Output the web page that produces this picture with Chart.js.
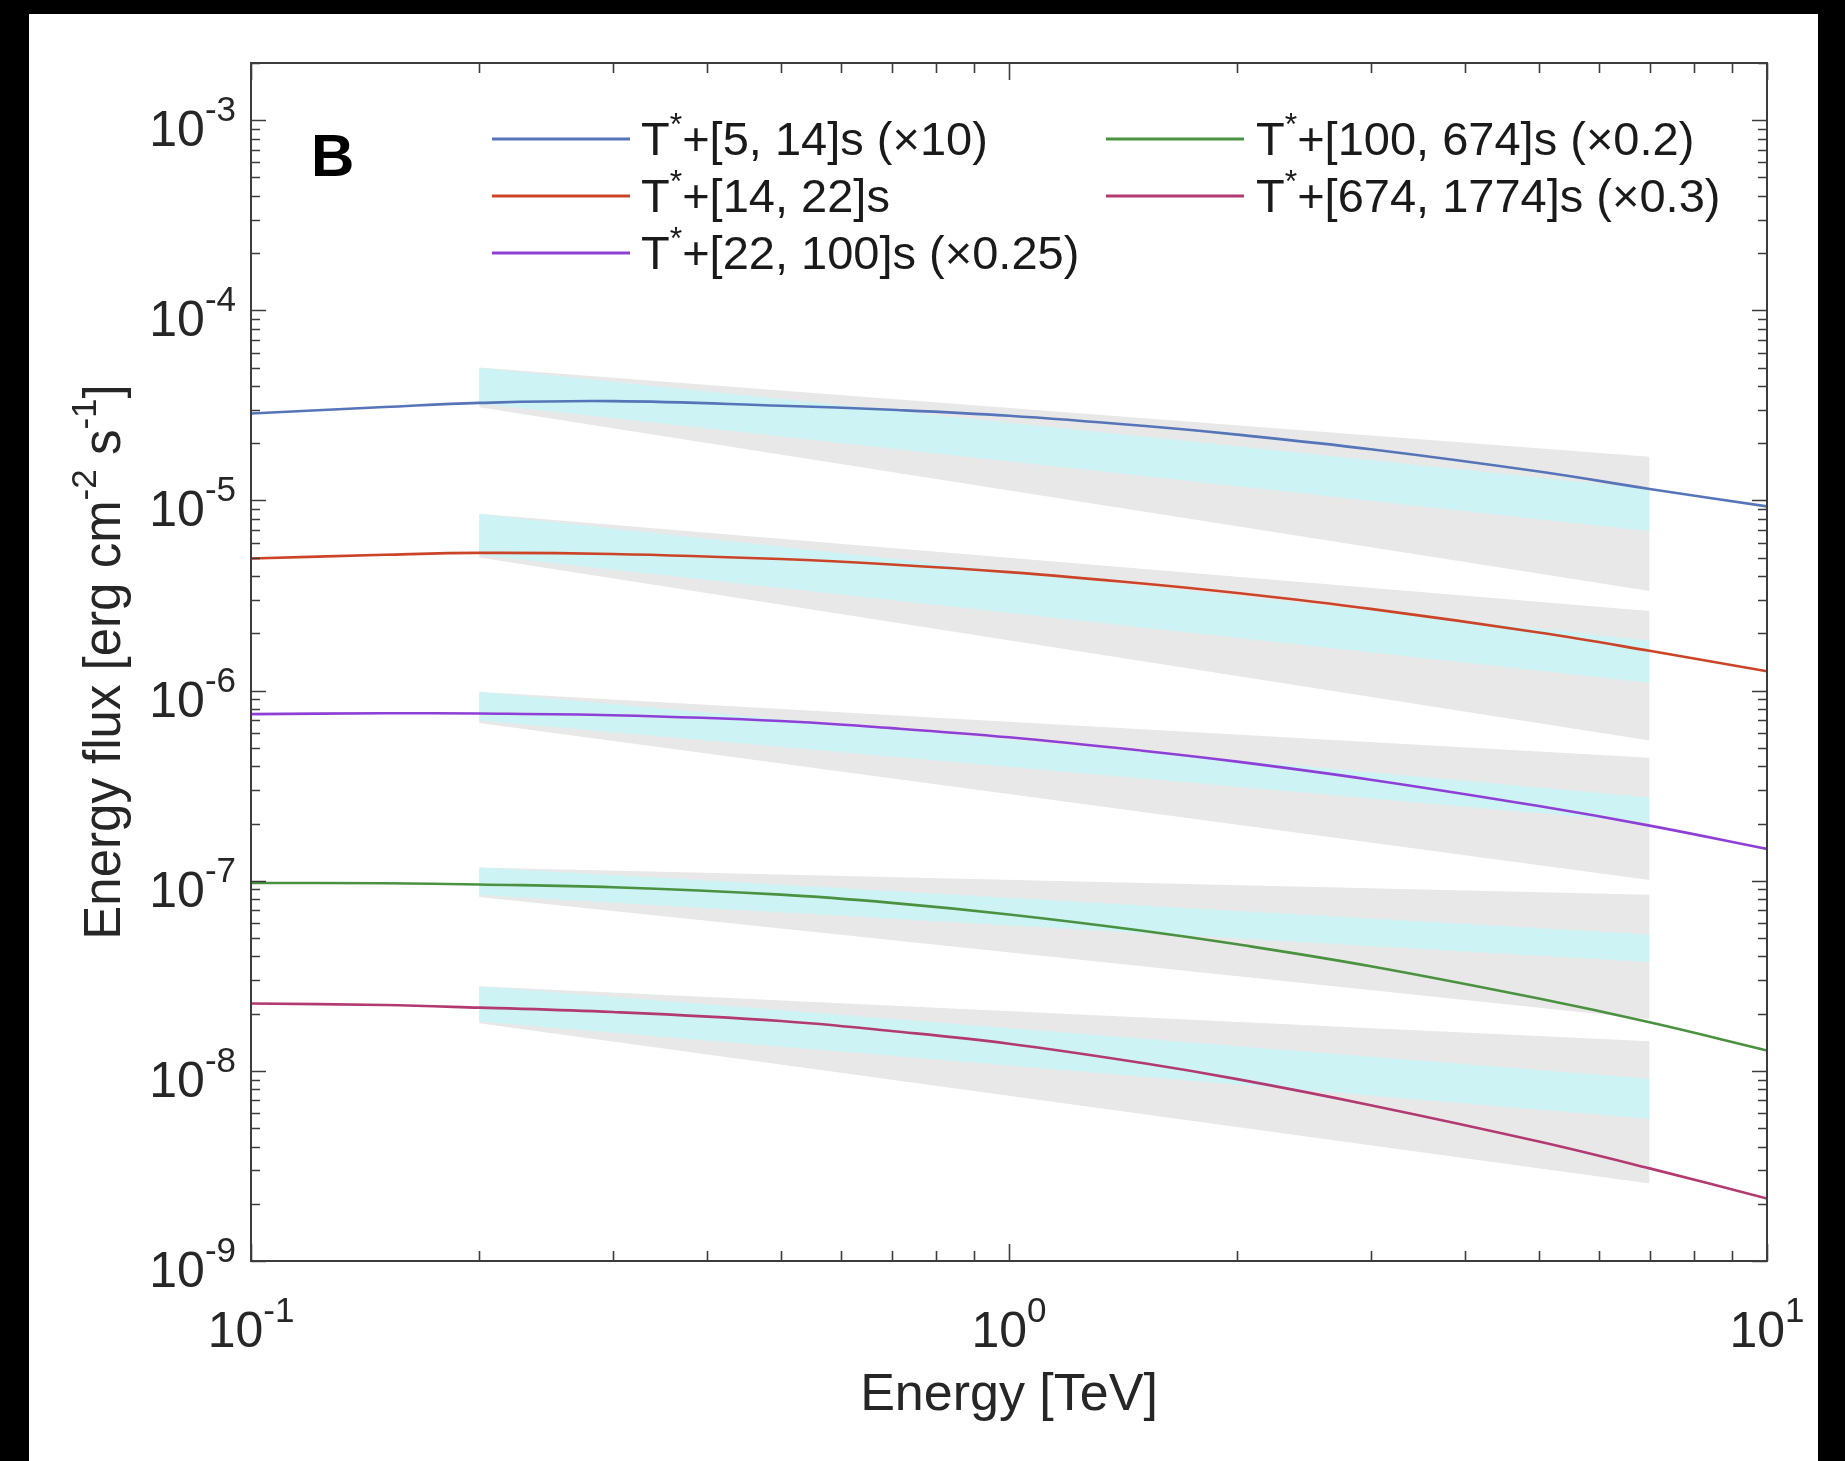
<!DOCTYPE html>
<html><head><meta charset="utf-8">
<script src="https://cdn.jsdelivr.net/npm/chart.js@4.4.1/dist/chart.umd.min.js"></script>
<style>html,body{margin:0;padding:0;background:#000;overflow:hidden}#wrap{position:absolute;left:0;top:0;width:1845px;height:1461px}</style>
</head><body><div id="wrap"><canvas id="c" width="1845" height="1461"></canvas></div>
<script>
// ---- data ----
const energies = [0.1, 0.15, 0.2, 0.3, 0.5, 0.7, 1, 1.5, 2, 3, 5, 7, 10];
const seriesLabels = ['T*+[5, 14]s (×10)', 'T*+[14, 22]s', 'T*+[22, 100]s (×0.25)', 'T*+[100, 674]s (×0.2)', 'T*+[674, 1774]s (×0.3)'];
const seriesColors = ['#5674b8', '#cc4428', '#8e3fd6', '#4a9140', '#b23a70'];
const flux_5_14 = [2.87e-5, 3.10e-5, 3.26e-5, 3.33e-5, 3.15e-5, 3.00e-5, 2.79e-5, 2.47e-5, 2.22e-5, 1.86e-5, 1.42e-5, 1.15e-5, 9.31e-6];
const flux_14_22 = [4.95e-6, 5.18e-6, 5.30e-6, 5.23e-6, 4.92e-6, 4.61e-6, 4.20e-6, 3.66e-6, 3.26e-6, 2.69e-6, 2.02e-6, 1.62e-6, 1.265e-6];
const flux_22_100 = [7.52e-7, 7.60e-7, 7.58e-7, 7.42e-7, 6.92e-7, 6.35e-7, 5.68e-7, 4.83e-7, 4.23e-7, 3.40e-7, 2.47e-7, 1.95e-7, 1.47e-7];
const flux_100_674 = [9.73e-8, 9.70e-8, 9.55e-8, 9.25e-8, 8.45e-8, 7.65e-8, 6.65e-8, 5.46e-8, 4.63e-8, 3.55e-8, 2.40e-8, 1.80e-8, 1.28e-8];
const flux_674_1774 = [2.26e-8, 2.22e-8, 2.15e-8, 2.04e-8, 1.83e-8, 1.62e-8, 1.39e-8, 1.10e-8, 9.05e-9, 6.60e-9, 4.25e-9, 3.07e-9, 2.13e-9];
const seriesFlux = [flux_5_14, flux_14_22, flux_22_100, flux_100_674, flux_674_1774];

const bandEnergies = [0.2, 7];
const grayHi = [[5.01e-5, 1.70e-5], [8.51e-6, 2.62e-6], [9.84e-7, 4.43e-7], [1.175e-7, 8.45e-8], [2.79e-8, 1.43e-8]];
const grayLo = [[3.09e-5, 3.34e-6], [5.01e-6, 5.47e-7], [6.76e-7, 1.01e-7], [8.22e-8, 1.87e-8], [1.78e-8, 2.56e-9]];
const cyanHi = [[4.99e-5, 1.15e-5], [8.50e-6, 1.83e-6], [9.84e-7, 2.74e-7], [1.175e-7, 5.22e-8], [2.79e-8, 9.08e-9]];
const cyanLo = [[3.24e-5, 6.88e-6], [5.16e-6, 1.10e-6], [6.97e-7, 2.02e-7], [8.41e-8, 3.74e-8], [1.82e-8, 5.60e-9]];

const yMajorTicks = [1e-9, 1e-8, 1e-7, 1e-6, 1e-5, 1e-4, 1e-3];
const yTickExponents = ['-9', '-8', '-7', '-6', '-5', '-4', '-3'];
const xMajorTicks = [0.1, 1, 10];
const xTickExponents = ['-1', '0', '1'];
const xTitle = 'Energy [TeV]';
const yTitleParts = ['Energy flux [erg cm', '-2', ' s', '-1', ']'];
const panelLetter = 'B';

// ---- datasets ----
const pts = (xs, ys) => xs.map((x, i) => ({x: x, y: ys[i]}));
const datasets = [];
for (let s = 0; s < 5; s++) {
  datasets.push({label: 'gray hi', data: pts(bandEnergies, grayHi[s]), borderWidth: 0, borderColor: 'rgba(0,0,0,0)', pointRadius: 0, fill: '+1', backgroundColor: '#e8e8e8', order: 3, tension: 0});
  datasets.push({label: 'gray lo', data: pts(bandEnergies, grayLo[s]), borderWidth: 0, borderColor: 'rgba(0,0,0,0)', pointRadius: 0, fill: false, order: 3, tension: 0});
  datasets.push({label: 'cyan hi', data: pts(bandEnergies, cyanHi[s]), borderWidth: 0, borderColor: 'rgba(0,0,0,0)', pointRadius: 0, fill: '+1', backgroundColor: '#cdf3f4', order: 2, tension: 0});
  datasets.push({label: 'cyan lo', data: pts(bandEnergies, cyanLo[s]), borderWidth: 0, borderColor: 'rgba(0,0,0,0)', pointRadius: 0, fill: false, order: 2, tension: 0});
}
for (let s = 0; s < 5; s++) {
  datasets.push({label: seriesLabels[s], data: pts(energies, seriesFlux[s]), borderColor: seriesColors[s], borderWidth: 2.6, pointRadius: 0, fill: false, order: 1, tension: 0.4});
}

const FONT = '"Liberation Sans", Arial, Helvetica, sans-serif';
function richWidth(ctx, parts) {
  let w = 0;
  for (const p of parts) { ctx.font = (p.bold ? 'bold ' : '') + p.size + 'px ' + FONT; w += ctx.measureText(p.t).width; }
  return w;
}
function drawRich(ctx, parts, x, y) {
  let cx = x;
  for (const p of parts) {
    ctx.font = (p.bold ? 'bold ' : '') + p.size + 'px ' + FONT;
    ctx.fillText(p.t, cx, y + (p.dy || 0));
    cx += ctx.measureText(p.t).width;
  }
}
function labelParts(label, size, sup) {
  const i = label.indexOf('*');
  return [{t: label.slice(0, i), size: size}, {t: '*', size: sup, dy: -20}, {t: label.slice(i + 1), size: size}];
}

const decor = {
  id: 'decor',
  beforeDraw(chart) {
    const ctx = chart.ctx;
    ctx.save();
    ctx.fillStyle = '#000';
    ctx.fillRect(0, 0, chart.width, chart.height);
    ctx.fillStyle = '#fff';
    ctx.fillRect(29, 14, 1789, 1461);
    ctx.restore();
  },
  afterDraw(chart) {
    const ctx = chart.ctx;
    const a = chart.chartArea;
    const xs = chart.scales.x, ys = chart.scales.y;
    ctx.save();
    ctx.strokeStyle = '#3c3c3c';
    ctx.lineWidth = 2;
    ctx.strokeRect(a.left, a.top, a.right - a.left, a.bottom - a.top);
    // x ticks
    ctx.beginPath();
    for (let d = -1; d <= 1; d++) {
      for (let k = 1; k <= 9; k++) {
        const v = k * Math.pow(10, d);
        if (v < 0.1 - 1e-12 || v > 10 + 1e-9) continue;
        const px = Math.round(xs.getPixelForValue(v)) + 0.5;
        const len = k === 1 ? 17 : 10;
        ctx.moveTo(px, a.bottom); ctx.lineTo(px, a.bottom - len);
        ctx.moveTo(px, a.top); ctx.lineTo(px, a.top + len);
      }
    }
    // y ticks
    for (let d = -9; d <= -3; d++) {
      for (let k = 1; k <= 9; k++) {
        const v = k * Math.pow(10, d);
        if (v > 2.0001e-3) continue;
        const py = Math.round(ys.getPixelForValue(v)) + 0.5;
        const len = k === 1 ? 15 : 9;
        ctx.moveTo(a.left, py); ctx.lineTo(a.left + len, py);
        ctx.moveTo(a.right, py); ctx.lineTo(a.right - len, py);
      }
    }
    ctx.lineWidth = 1.6;
    ctx.stroke();
    // tick labels
    ctx.fillStyle = '#262626';
    ctx.textBaseline = 'alphabetic';
    ctx.textAlign = 'left';
    yMajorTicks.forEach((v, i) => {
      const py = ys.getPixelForValue(v);
      const parts = [{t: '10', size: 50}, {t: yTickExponents[i], size: 35, dy: -25}];
      const w = richWidth(ctx, parts);
      drawRich(ctx, parts, 236 - w, py + 26);
    });
    xMajorTicks.forEach((v, i) => {
      const px = xs.getPixelForValue(v);
      const parts = [{t: '10', size: 50}, {t: xTickExponents[i], size: 35, dy: -25}];
      const w = richWidth(ctx, parts);
      drawRich(ctx, parts, px - w / 2, 1347);
    });
    // axis titles
    ctx.font = '52px ' + FONT;
    ctx.textAlign = 'center';
    ctx.fillText(xTitle, (a.left + a.right) / 2, 1410);
    ctx.textAlign = 'left';
    const yParts = [{t: yTitleParts[0], size: 51}, {t: yTitleParts[1], size: 35, dy: -24}, {t: yTitleParts[2], size: 51}, {t: yTitleParts[3], size: 35, dy: -24}, {t: yTitleParts[4], size: 51}];
    const yw = richWidth(ctx, yParts);
    ctx.save();
    ctx.translate(120, (a.top + a.bottom) / 2);
    ctx.rotate(-Math.PI / 2);
    drawRich(ctx, yParts, -yw / 2, 0);
    ctx.restore();
    // panel letter
    ctx.fillStyle = '#000';
    ctx.font = 'bold 60px ' + FONT;
    ctx.fillText(panelLetter, 311, 176);
    // legend
    const cols = [{lx: 492, tx: 641}, {lx: 1106, tx: 1256}];
    const rows = [139, 196, 253];
    const place = [[0, 0], [0, 1], [0, 2], [1, 0], [1, 1]];
    ctx.fillStyle = '#1a1a1a';
    for (let s = 0; s < 5; s++) {
      const c = cols[place[s][0]], ry = rows[place[s][1]];
      ctx.strokeStyle = seriesColors[s];
      ctx.lineWidth = 3;
      ctx.beginPath(); ctx.moveTo(c.lx, ry); ctx.lineTo(c.lx + 138, ry); ctx.stroke();
      drawRich(ctx, labelParts(seriesLabels[s], 47, 32), c.tx, ry + 16);
    }
    ctx.restore();
  }
};

new Chart(document.getElementById('c'), {
  type: 'line',
  data: {datasets: datasets},
  options: {
    responsive: false,
    animation: false,
    devicePixelRatio: 1,
    layout: {padding: {left: 251, right: 78, top: 63, bottom: 200}},
    scales: {
      x: {type: 'logarithmic', min: 0.1, max: 10, display: false},
      y: {type: 'logarithmic', min: 1e-9, max: 2e-3, display: false}
    },
    plugins: {legend: {display: false}, tooltip: {enabled: false}}
  },
  plugins: [decor]
});
</script></body></html>
